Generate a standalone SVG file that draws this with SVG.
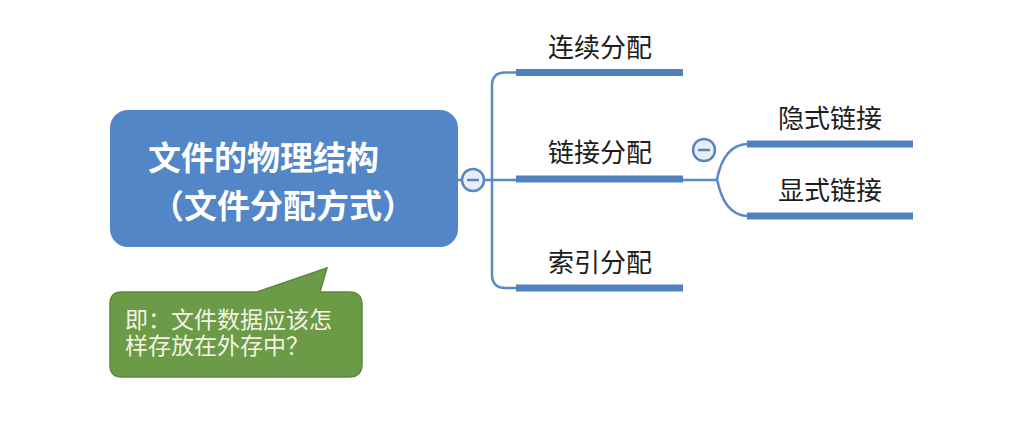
<svg xmlns="http://www.w3.org/2000/svg" width="1018" height="445" viewBox="0 0 1018 445">
<style>
.bar{stroke:#4F81BD;stroke-width:7;fill:none}
.ln{stroke:#5A8AC6;stroke-width:2.5;fill:none}
.lbl{font-family:"Noto Sans CJK SC","Noto Sans",sans-serif;font-size:26px;fill:#1c1c1c;text-anchor:middle}
.main{font-family:"Noto Sans CJK SC","Noto Sans",sans-serif;font-size:33px;font-weight:bold;fill:#ffffff}
.note{font-family:"Liberation Serif","Noto Sans CJK SC",serif;font-size:23px;fill:#F3F3E4}
.tog{fill:#E9EEF6;stroke:#5A86BF;stroke-width:2.5}
.minus{stroke:#5A86BF;stroke-width:2.5}
</style>
<rect width="1018" height="445" fill="#ffffff"/>
<g id="connectors">
<path class="ln" d="M458,180 H717"/>
<path class="ln" d="M516,72.5 H505 Q492,72.5 492,86 V274 Q492,288 505,288 H516"/>
<path class="ln" d="M717,179 Q724,145 747,144"/>
<path class="ln" d="M717,179 Q724,215 747,216"/>
</g>
<g id="root">
<rect x="110" y="110" width="348" height="137" rx="18" fill="#5386C6"/>
<text class="main" x="148" y="170">文件的物理结构</text>
<text class="main" x="151" y="218">（文件分配方式）</text>
</g>
<g id="toggle1">
<circle class="tog" cx="473" cy="180" r="11"/>
<line class="minus" x1="467" y1="180" x2="479" y2="180"/>
</g>
<g id="n-lianxu">
<path class="bar" d="M516,72.5 H683"/>
<text class="lbl" x="600" y="57">连续分配</text>
</g>
<g id="n-lianjie">
<path class="bar" d="M516,179 H683"/>
<text class="lbl" x="600" y="162">链接分配</text>
</g>
<g id="n-suoyin">
<path class="bar" d="M516,288 H683"/>
<text class="lbl" x="600" y="272">索引分配</text>
</g>
<g id="toggle2">
<circle class="tog" cx="704" cy="150" r="11"/>
<line class="minus" x1="698" y1="150" x2="710" y2="150"/>
</g>
<g id="n-yinshi">
<path class="bar" d="M747,144 H913"/>
<text class="lbl" x="830" y="128">隐式链接</text>
</g>
<g id="n-xianshi">
<path class="bar" d="M747,216 H913"/>
<text class="lbl" x="830" y="200">显式链接</text>
</g>
<g id="callout">
<path d="M122,292 H257 L327,268 L320,292 H349 Q362,292 362,305 V364 Q362,377 349,377 H122 Q110,377 110,365 V304 Q110,292 122,292 Z" fill="#6B9B47" stroke="#5B8A3C" stroke-width="1.5"/>
<text class="note" x="125" y="328">即：文件数据应该怎</text>
<text class="note" x="125" y="354">样存放在外存中？</text>
</g>
</svg>
